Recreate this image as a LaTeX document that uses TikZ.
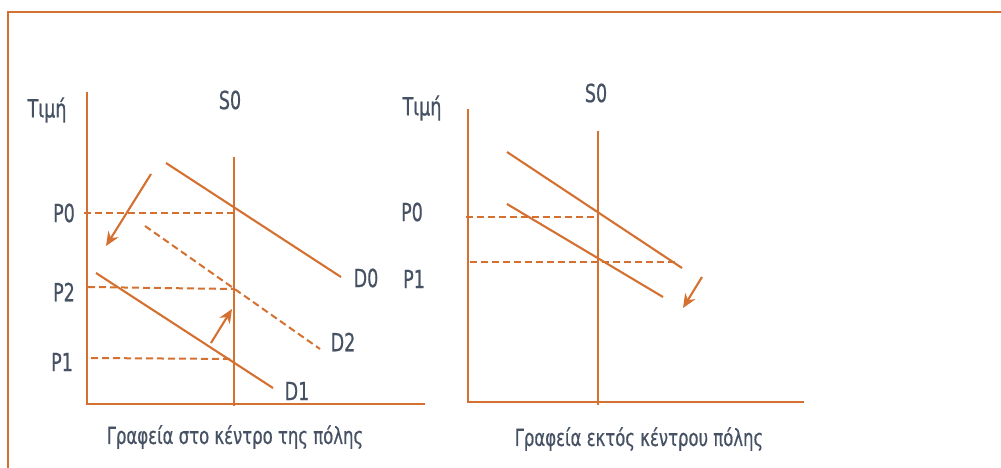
\documentclass[tikz,border=0pt]{standalone}
\usepackage{fontspec}
\setmainfont[FakeStretch=0.78,FakeBold=0.6]{DejaVu Sans Condensed}
\usetikzlibrary{arrows.meta}
\definecolor{org}{RGB}{212,112,48}
\definecolor{txt}{RGB}{70,82,100}
\begin{document}
\begin{tikzpicture}[x=1pt,y=-1pt,
  axisline/.style={draw=org,line width=2.3pt},
  curve/.style={draw=org,line width=2.1pt},
  dashline/.style={draw=org,line width=2pt,dash pattern=on 7pt off 4pt},
  shiftarrow/.style={draw=org,line width=2.1pt,-{Stealth[length=14pt,width=12pt]}},
  lbl/.style={text=txt,font=\fontsize{25}{26}\selectfont,inner sep=0pt},
  caplbl/.style={text=txt,font=\fontsize{23.5}{25}\selectfont,inner sep=0pt}]
\useasboundingbox (0,0) rectangle (1001,468);
% frame
\coordinate (fA) at (1001,12);
\coordinate (fB) at (8,12);
\coordinate (fC) at (8,468);
\draw[axisline] (fA) -- (fB) -- (fC);

% ---------- left plot ----------
\coordinate (ly) at (87,92);
\coordinate (lo) at (87,404);
\coordinate (lx) at (425,404);
\draw[axisline] (ly) -- (lo) -- (lx);
\coordinate (lsT) at (234,157);
\coordinate (lsB) at (234,406);
\draw[curve] (lsT) -- (lsB);
\coordinate (d0a) at (166,163); \coordinate (d0b) at (341,277);
\draw[curve] (d0a) -- (d0b);
\coordinate (d2a) at (145,226); \coordinate (d2b) at (320,349);
\draw[dashline] (d2a) -- (d2b);
\coordinate (d1a) at (96,273); \coordinate (d1b) at (273,388);
\draw[curve] (d1a) -- (d1b);
\coordinate (lp0a) at (84,213); \coordinate (lp0b) at (234,213);
\draw[dashline] (lp0a) -- (lp0b);
\coordinate (lp2a) at (88,287); \coordinate (lp2b) at (234,289);
\draw[dashline] (lp2a) -- (lp2b);
\coordinate (lp1a) at (91,358); \coordinate (lp1b) at (234,359);
\draw[dashline] (lp1a) -- (lp1b);
\coordinate (ar1a) at (151,174); \coordinate (ar1b) at (106,246);
\draw[shiftarrow] (ar1a) -- (ar1b);
\coordinate (ar2a) at (211,343); \coordinate (ar2b) at (232,309);
\draw[shiftarrow] (ar2a) -- (ar2b);
\node[lbl] (ltimi) at (47,110) {Τιμή};
\node[lbl] (ls0) at (230,100) {S0};
\node[lbl] (lP0) at (64,213) {P0};
\node[lbl] (lP2) at (64,292) {P2};
\node[lbl] (lP1) at (62,362) {P1};
\node[lbl] (lD0) at (366,278) {D0};
\node[lbl] (lD2) at (343,342) {D2};
\node[lbl] (lD1) at (297,391) {D1};
\node[caplbl] (lcap) at (235,437) {Γραφεία στο κέντρο της πόλης};

% ---------- right plot ----------
\coordinate (ry) at (468,109);
\coordinate (ro) at (468,402);
\coordinate (rx) at (804,402);
\draw[axisline] (ry) -- (ro) -- (rx);
\coordinate (rsT) at (598,131);
\coordinate (rsB) at (598,405);
\draw[curve] (rsT) -- (rsB);
\coordinate (rua) at (507,152); \coordinate (rub) at (682,268);
\draw[curve] (rua) -- (rub);
\coordinate (rla) at (507,204); \coordinate (rlb) at (663,297);
\draw[curve] (rla) -- (rlb);
\coordinate (rp0a) at (466,217); \coordinate (rp0b) at (598,217);
\draw[dashline] (rp0a) -- (rp0b);
\coordinate (rp1a) at (470,262); \coordinate (rp1b) at (677,262);
\draw[dashline] (rp1a) -- (rp1b);
\coordinate (ar3a) at (702,277); \coordinate (ar3b) at (683,308);
\draw[shiftarrow] (ar3a) -- (ar3b);
\node[lbl] (rtimi) at (422,108) {Τιμή};
\node[lbl] (rs0) at (596,93) {S0};
\node[lbl] (rP0) at (412,212) {P0};
\node[lbl] (rP1) at (414,279) {P1};
\node[caplbl] (rcap) at (639,439) {Γραφεία εκτός κέντρου πόλης};
\end{tikzpicture}
\end{document}
